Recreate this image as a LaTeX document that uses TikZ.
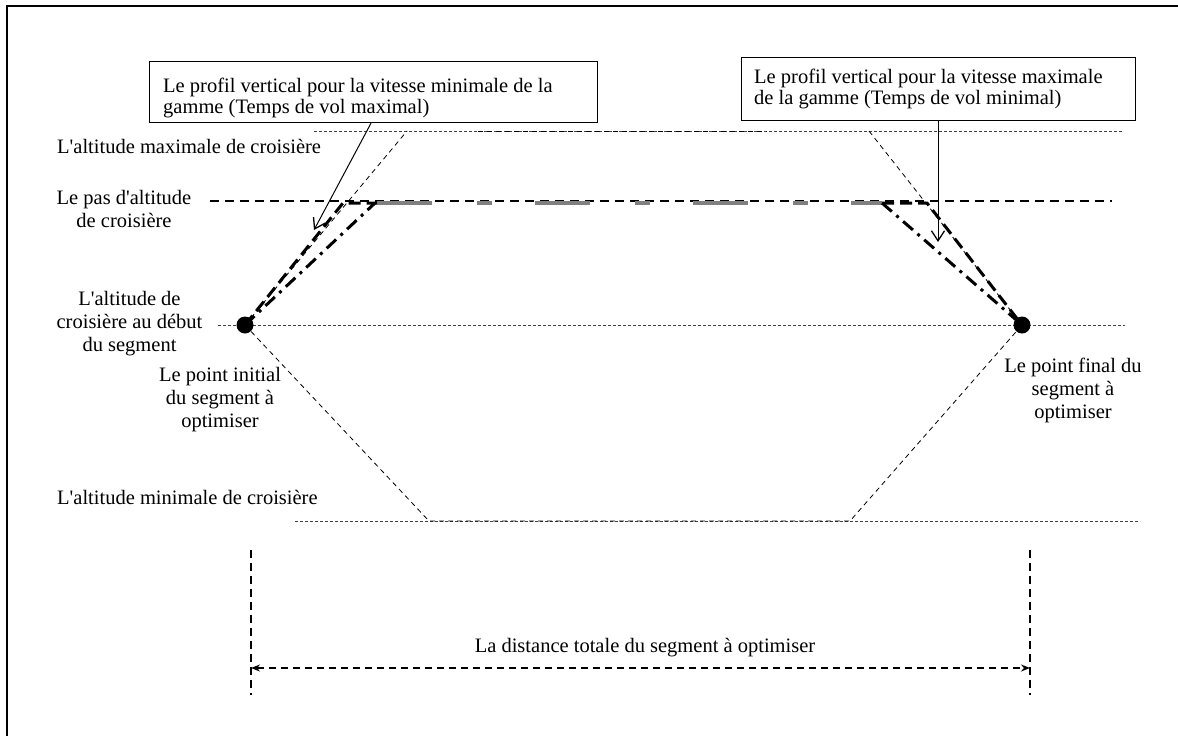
\documentclass[tikz,border=0pt]{standalone}
\usepackage{fontspec}
\setmainfont{Liberation Serif}[Ligatures=TeXOff]
\usetikzlibrary{arrows.meta}
\begin{document}
\begin{tikzpicture}[x=1pt,y=-1pt,
  font=\fontsize{20.5}{23}\selectfont,
  frameline/.style={line width=2pt},
  callout/.style={draw, line width=1.2pt, anchor=north west, inner sep=0pt},
  calltext/.style={align=left, anchor=north west, inner sep=0pt, font=\fontsize{20.5}{21.5}\selectfont},
  lbl/.style={align=center, inner sep=0pt, anchor=north},
  levelline/.style={line width=0.8pt, dash pattern=on 3pt off 2pt, black!75},
  stepline/.style={line width=1.4pt, dash pattern=on 9pt off 6pt},
  envelope/.style={line width=0.8pt, dash pattern=on 5pt off 4pt},
  profmin/.style={line width=3pt, dash pattern=on 12pt off 6pt},
  profmax/.style={line width=3pt, dash pattern=on 13pt off 6pt on 3pt off 6pt},
  cruise/.style={line width=4pt, black!50, dash pattern=on 55pt off 45pt on 15pt off 43pt},
  pointer/.style={line width=1pt, -{Straight Barb[length=10pt,width=13pt,line width=1.3pt]}},
  bound/.style={line width=1.4pt, dash pattern=on 8pt off 5pt},
  span/.style={line width=1.4pt, dash pattern=on 7pt off 5pt,
    {Stealth[length=9pt,width=7pt]}-{Stealth[length=9pt,width=7pt]}},
  segpt/.style={circle, fill, inner sep=0pt, minimum size=17pt}]
\useasboundingbox (0,0) rectangle (1178,736);

% outer frame
\draw[frameline] (7,745) -- (7,6) -- (1190,6);

% cruise level lines
\coordinate (maxA) at (314,131);  \coordinate (maxB) at (1122,131);
\coordinate (stpA) at (210,201);  \coordinate (stpB) at (1112,201);
\coordinate (begA) at (218,325);  \coordinate (begB) at (1125,325);
\coordinate (minA) at (295,521);  \coordinate (minB) at (1140,521);
\draw[levelline] (maxA) -- (maxB);
\draw[levelline] (begA) -- (begB);
\draw[levelline] (minA) -- (minB);
\draw[stepline] (stpA) -- (stpB);

% segment end points
\node[segpt] (ptL) at (245,325) {};
\node[segpt] (ptR) at (1022,325) {};

% feasible envelope
\coordinate (envTL) at (407,131); \coordinate (envTR) at (869,131);
\coordinate (envBL) at (429,521); \coordinate (envBR) at (850,521);
\draw[envelope] (ptL.center) -- (envTL);
\draw[envelope] (envTR) -- (ptR.center);
\draw[envelope] (478,131) -- (767,131);
\draw[envelope] (ptL.center) -- (envBL) -- (envBR) -- (ptR.center);

% vertical profiles
\coordinate (aTop) at (343,203); \coordinate (aEnd) at (377,203);
\coordinate (aRe) at (882,203);  \coordinate (aTopR) at (927,203);
\coordinate (bTop) at (375,203);
\draw[cruise] (aEnd) -- (aRe);
\draw[profmin] (ptL.center) -- (aTop) -- (aEnd);
\draw[profmin] (aRe) -- (aTopR) -- (ptR.center);
\draw[profmax] (ptL.center) -- (bTop);
\draw[profmax] (aRe) -- (ptR.center);

% callouts
\node[callout, minimum width=448pt, minimum height=61pt] (boxL) at (149,61) {};
\node[calltext] (txtL) at (163,77.5) {Le profil vertical pour la vitesse minimale de la\\gamme (Temps de vol maximal)};
\node[callout, minimum width=394pt, minimum height=63pt] (boxR) at (741,57) {};
\node[calltext] (txtR) at (754,68.5) {Le profil vertical pour la vitesse maximale\\de la gamme (Temps de vol minimal)};
\coordinate (tipL) at (314,230);
\coordinate (tipR) at (938,242);
\draw[pointer] (boxL.south west -| 371,0) -- (tipL);
\draw[pointer] (boxR.south west -| 938,0) -- (tipR);

% labels
\node[anchor=base west, inner sep=0pt] (lMax) at (57,153) {L'altitude maximale de croisière};
\node[lbl] (lStep) at (124,190.5) {Le pas d'altitude\\de croisière};
\node[lbl] (lBeg) at (129.5,291.5) {L'altitude de\\croisière au début\\du segment};
\node[lbl] (lIni) at (220,367.5) {Le point initial\\du segment à\\optimiser};
\node[lbl] (lFin) at (1073,357.5) {Le point final du\\segment à\\optimiser};
\node[anchor=base west, inner sep=0pt] (lMin) at (57,504) {L'altitude minimale de croisière};

% total distance
\coordinate (vLa) at (251,550); \coordinate (vLb) at (251,695);
\coordinate (vRa) at (1030,550); \coordinate (vRb) at (1030,695);
\draw[bound] (vLa) -- (vLb);
\draw[bound] (vRa) -- (vRb);
\coordinate (dL) at (251,668); \coordinate (dR) at (1030,668);
\draw[span] (dL) -- (dR);
\node[anchor=base, inner sep=0pt] (lDist) at (645,652) {La distance totale du segment à optimiser};
\end{tikzpicture}
\end{document}
